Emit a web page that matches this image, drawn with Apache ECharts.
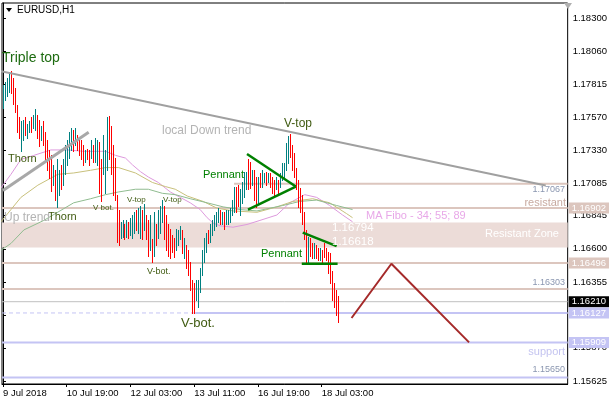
<!DOCTYPE html>
<html><head><meta charset="utf-8">
<script src="https://cdn.jsdelivr.net/npm/echarts@6/dist/echarts.min.js"></script>
<style>html,body{margin:0;padding:0;background:#fff}#c{width:610px;height:400px}</style>
</head><body><div id="c"></div>
<script>
// ---- data ----
const xTickIdx = [0, 32, 64, 96, 128, 160];
const xTickLabels = ['9 Jul 2018', '10 Jul 19:00', '12 Jul 03:00', '13 Jul 11:00', '16 Jul 19:00', '18 Jul 03:00'];
const yTicks = [1.18300, 1.18060, 1.17815, 1.17570, 1.17330, 1.17085, 1.16845, 1.16600, 1.16355, 1.16110, 1.15870, 1.15625];
// hourly bars EURUSD H1: [open, close, low, high]
const bars = [
[1.1767,1.1778,1.1764,1.1781],[1.1772,1.1781,1.1770,1.1783],[1.1776,1.1784,1.1773,1.1786],[1.1779,1.1788,1.1776,1.1789],
[1.1788,1.1778,1.1775,1.1791],[1.1780,1.1769,1.1767,1.1786],[1.1772,1.1763,1.1761,1.1779],[1.1764,1.1748,1.1746,1.1766],
[1.1752,1.1744,1.1742,1.1757],[1.1742,1.1752,1.1732,1.1754],[1.1745,1.1753,1.1740,1.1755],[1.1755,1.1746,1.1744,1.1757],
[1.1745,1.1750,1.1742,1.1752],[1.1748,1.1752,1.1746,1.1754],[1.1754,1.1748,1.1746,1.1757],[1.1750,1.1757,1.1749,1.1759],
[1.1750,1.1761,1.1748,1.1763],[1.1758,1.1745,1.1742,1.1759],[1.1750,1.1738,1.1736,1.1755],[1.1742,1.1749,1.1740,1.1751],
[1.1750,1.1739,1.1737,1.1754],[1.1740,1.1728,1.1726,1.1746],[1.1730,1.1720,1.1718,1.1740],[1.1725,1.1714,1.1712,1.1733],
[1.1716,1.1706,1.1703,1.1729],[1.1709,1.1719,1.1707,1.1722],[1.1716,1.1700,1.1696,1.1718],[1.1700,1.1722,1.1691,1.1726],
[1.1705,1.1715,1.1700,1.1718],[1.1716,1.1706,1.1704,1.1722],[1.1709,1.1722,1.1707,1.1726],[1.1718,1.1733,1.1715,1.1737],
[1.1727,1.1737,1.1722,1.1740],[1.1732,1.1743,1.1727,1.1746],[1.1737,1.1747,1.1733,1.1749],[1.1746,1.1736,1.1732,1.1748],
[1.1739,1.1747,1.1737,1.1749],[1.1743,1.1735,1.1733,1.1744],[1.1740,1.1731,1.1729,1.1742],[1.1738,1.1728,1.1726,1.1740],
[1.1735,1.1724,1.1722,1.1737],[1.1725,1.1731,1.1724,1.1733],[1.1732,1.1727,1.1726,1.1734],[1.1731,1.1723,1.1722,1.1733],
[1.1728,1.1738,1.1727,1.1740],[1.1736,1.1726,1.1724,1.1737],[1.1727,1.1740,1.1724,1.1742],[1.1727,1.1738,1.1722,1.1740],
[1.1737,1.1705,1.1701,1.1739],[1.1715,1.1698,1.1695,1.1726],[1.1718,1.1740,1.1715,1.1744],[1.1705,1.1730,1.1701,1.1733],
[1.1722,1.1752,1.1718,1.1757],[1.1752,1.1730,1.1726,1.1758],[1.1745,1.1720,1.1715,1.1751],[1.1725,1.1705,1.1700,1.1737],
[1.1710,1.1700,1.1696,1.1727],[1.1698,1.1668,1.1665,1.1700],[1.1680,1.1670,1.1663,1.1689],[1.1670,1.1677,1.1668,1.1680],
[1.1671,1.1678,1.1669,1.1681],[1.1676,1.1669,1.1667,1.1678],[1.1670,1.1678,1.1669,1.1681],[1.1678,1.1671,1.1668,1.1680],
[1.1672,1.1680,1.1670,1.1683],[1.1672,1.1682,1.1668,1.1685],[1.1675,1.1685,1.1672,1.1687],[1.1686,1.1677,1.1674,1.1689],
[1.1676,1.1687,1.1672,1.1690],[1.1673,1.1689,1.1668,1.1692],[1.1687,1.1672,1.1667,1.1689],[1.1676,1.1690,1.1674,1.1693],
[1.1684,1.1670,1.1667,1.1685],[1.1672,1.1660,1.1655,1.1681],[1.1662,1.1680,1.1659,1.1685],[1.1665,1.1652,1.1650,1.1667],
[1.1657,1.1683,1.1655,1.1687],[1.1677,1.1665,1.1663,1.1678],[1.1670,1.1686,1.1668,1.1689],[1.1676,1.1690,1.1672,1.1692],
[1.1683,1.1694,1.1680,1.1696],[1.1690,1.1670,1.1667,1.1692],[1.1680,1.1662,1.1659,1.1685],[1.1670,1.1658,1.1655,1.1678],
[1.1672,1.1656,1.1653,1.1675],[1.1668,1.1660,1.1658,1.1670],[1.1665,1.1656,1.1654,1.1668],[1.1660,1.1672,1.1659,1.1675],
[1.1665,1.1672,1.1663,1.1674],[1.1669,1.1675,1.1667,1.1677],[1.1672,1.1660,1.1657,1.1674],[1.1655,1.1664,1.1653,1.1668],
[1.1660,1.1649,1.1646,1.1663],[1.1650,1.1643,1.1641,1.1659],[1.1645,1.1632,1.1630,1.1650],[1.1633,1.1618,1.1613,1.1637],
[1.1625,1.1616,1.1613,1.1635],[1.1624,1.1634,1.1622,1.1637],[1.1620,1.1633,1.1617,1.1637],[1.1630,1.1643,1.1628,1.1646],
[1.1643,1.1656,1.1641,1.1659],[1.1653,1.1666,1.1650,1.1668],[1.1660,1.1669,1.1658,1.1672],[1.1672,1.1665,1.1664,1.1674],
[1.1667,1.1676,1.1665,1.1678],[1.1672,1.1680,1.1670,1.1681],[1.1676,1.1683,1.1674,1.1685],[1.1679,1.1686,1.1677,1.1687],
[1.1682,1.1688,1.1680,1.1690],[1.1688,1.1680,1.1678,1.1689],[1.1680,1.1686,1.1678,1.1687],[1.1686,1.1678,1.1675,1.1687],
[1.1679,1.1687,1.1678,1.1689],[1.1681,1.1687,1.1678,1.1689],[1.1683,1.1689,1.1680,1.1690],[1.1687,1.1694,1.1685,1.1696],
[1.1690,1.1704,1.1687,1.1706],[1.1704,1.1690,1.1687,1.1706],[1.1704,1.1695,1.1692,1.1707],[1.1688,1.1700,1.1685,1.1704],
[1.1697,1.1706,1.1694,1.1709],[1.1702,1.1714,1.1698,1.1717],[1.1707,1.1715,1.1704,1.1717],[1.1720,1.1706,1.1704,1.1726],
[1.1722,1.1708,1.1705,1.1724],[1.1709,1.1716,1.1707,1.1718],[1.1716,1.1700,1.1696,1.1718],[1.1705,1.1694,1.1691,1.1713],
[1.1695,1.1709,1.1694,1.1713],[1.1714,1.1708,1.1706,1.1716],[1.1708,1.1716,1.1706,1.1718],[1.1711,1.1715,1.1709,1.1716],
[1.1715,1.1709,1.1707,1.1717],[1.1710,1.1715,1.1709,1.1716],[1.1715,1.1708,1.1706,1.1716],[1.1710,1.1703,1.1701,1.1713],
[1.1707,1.1700,1.1698,1.1711],[1.1705,1.1710,1.1704,1.1713],[1.1710,1.1703,1.1701,1.1711],[1.1707,1.1714,1.1706,1.1716],
[1.1713,1.1721,1.1711,1.1723],[1.1716,1.1722,1.1713,1.1723],[1.1720,1.1735,1.1718,1.1738],[1.1726,1.1740,1.1723,1.1743],
[1.1740,1.1732,1.1728,1.1745],[1.1734,1.1722,1.1718,1.1737],[1.1725,1.1716,1.1713,1.1731],[1.1716,1.1706,1.1704,1.1720],
[1.1708,1.1694,1.1691,1.1711],[1.1698,1.1690,1.1687,1.1705],[1.1692,1.1681,1.1678,1.1700],[1.1682,1.1669,1.1667,1.1687],
[1.1670,1.1653,1.1650,1.1674],[1.1653,1.1664,1.1650,1.1669],[1.1665,1.1658,1.1655,1.1668],[1.1660,1.1655,1.1653,1.1664],
[1.1655,1.1662,1.1653,1.1664],[1.1660,1.1655,1.1653,1.1663],[1.1660,1.1653,1.1652,1.1661],[1.1654,1.1660,1.1652,1.1661],
[1.1658,1.1652,1.1650,1.1659],[1.1662,1.1656,1.1654,1.1664],[1.1658,1.1653,1.1652,1.1661],[1.1655,1.1645,1.1642,1.1658],
[1.1648,1.1638,1.1635,1.1657],[1.1640,1.1626,1.1622,1.1644],[1.1630,1.1620,1.1617,1.1635],[1.1628,1.1615,1.1611,1.1630],
[1.1625,1.1621,1.1606,1.1625]
];
// moving averages (shifted), points [barIndex, price]
const ma34 = [[-1,1.1705],[4,1.1715],[9,1.1726],[15.5,1.1729],[24,1.1733],[32.5,1.1733],[40.5,1.1732],[51.5,1.1732],[56.5,1.1729],[61.5,1.1727],[65,1.1722],[69,1.1717],[73,1.1713],[78,1.1709],[84,1.1702],[89,1.1698],[94,1.1694],[99,1.1689],[102.5,1.1683],[105.5,1.1679],[109,1.1677],[115.5,1.1676],[122.5,1.1678],[129,1.1681],[137.5,1.1685],[144,1.1694],[151.5,1.1700],[157.5,1.1698],[164,1.1692],[170.5,1.1685],[175.5,1.1680]];
const ma55 = [[-1,1.1680],[4,1.1689],[9,1.1698],[17.5,1.1707],[27.5,1.1715],[35.5,1.1716],[44,1.1718],[51.5,1.1720],[58,1.1720],[66.5,1.1716],[75,1.1709],[81.5,1.1706],[86.5,1.1704],[92.5,1.1699],[100.5,1.1695],[107.5,1.1690],[115.5,1.1688],[127.5,1.1687],[137.5,1.1691],[145.5,1.1695],[155.5,1.1697],[164,1.1694],[172.5,1.1686],[175.5,1.1683]];
const ma89 = [[-1,1.1659],[4,1.1664],[10.5,1.1674],[20.5,1.1681],[35.5,1.1694],[44,1.1697],[51.5,1.1700],[58,1.1702],[66.5,1.1704],[73,1.1704],[80,1.1701],[86.5,1.1700],[94,1.1697],[102.5,1.1694],[110.5,1.1691],[119,1.1689],[127.5,1.1688],[140.5,1.1692],[149,1.1695],[157.5,1.1696],[167.5,1.1692],[175.5,1.1689]];
// drawn objects
const downTrend = [[-1,1.1791],[272.5,1.17067]];
const upTrend = [[0,1.1703],[43,1.1746]];
const pennant1Upper = [[122.5,1.1730],[147,1.1706]];
const pennant1Lower = [[123,1.1689],[147,1.1706]];
const pennant2Upper = [[150.5,1.1672],[167.5,1.1662]];
const pennant2Lower = [[150,1.1649],[168,1.1649]];
const projection = [[175,1.1609],[195,1.1649],[234,1.1591]];
const zone = [1.16794, 1.16610];
const resLevel = 1.1708, resLevelStart = 116;
const roseLevels = [1.16902, 1.16496, 1.16303];
const roseTags = [1.16902, 1.16496];
const lavLevels = [1.15909, 1.15650];
const lavTags = [1.15909];
const supLevel = 1.16127, supDashEnd = 96.5;
const bid = 1.16210;

const FONT = 'Liberation Sans, Arial, sans-serif';
const TEAL = '#008080', RED = '#ff0000';
const ROSE = '#dcc6be', LAV = '#c4c4f4', ZONE = '#ecdcd8';
const XMIN = -0.5, XMAX = 283.5;

const chart = echarts.init(document.getElementById('c'), null, {renderer: 'canvas'});

function seg(data, color, width, type, z, endTag) {
  const s = {type: 'line', data: data, showSymbol: false, symbol: 'none', silent: true, z: z || 4,
    lineStyle: {color: color, width: width, type: type || 'solid'}, animation: false};
  if (endTag) {
    s.endLabel = {show: true, distance: 1, formatter: endTag.v.toFixed(5), color: '#fff',
      backgroundColor: endTag.bg, padding: [1, 3, 0, 3], fontSize: 9.5, fontFamily: FONT};
  }
  return s;
}
function level(v, color, width, tagBg, z) {
  return seg([[XMIN, v], [XMAX, v]], color, width, 'solid', z || 2, tagBg ? {v: v, bg: tagBg} : null);
}

const txt = (text, x, y, size, color, align) => ({type: 'text', x: x, y: y, z: 100, silent: true,
  style: {text: text, fill: color, font: size + 'px ' + FONT, align: align || 'left', verticalAlign: 'middle'}});
const OLIVE = '#3f5a10', GREEN = '#008000', GR = '#b4b4b4', SLATE = '#8a96b0';

const series = [
  {type: 'line', data: [], z: 1, silent: true,
    markArea: {silent: true, itemStyle: {color: ZONE}, data: [[{yAxis: zone[0]}, {yAxis: zone[1]}]]}}
];
roseLevels.forEach(v => series.push(level(v, ROSE, 2, roseTags.includes(v) ? ROSE : null)));
lavLevels.forEach(v => series.push(level(v, LAV, 2, lavTags.includes(v) ? LAV : null)));
series.push(level(bid, '#c0c0c0', 1, '#000'));
series.push(seg([[resLevelStart, resLevel], [XMAX, resLevel]], ROSE, 2, 'solid', 2));
series.push(seg([[XMIN, supLevel], [supDashEnd, supLevel]], LAV, 1, [4, 3], 2));
series.push(seg([[supDashEnd, supLevel], [XMAX, supLevel]], LAV, 2, 'solid', 2, {v: supLevel, bg: LAV}));
series.push(seg(ma34, '#dd99dd', 1, 'solid', 3));
series.push(seg(ma55, '#c8c07c', 1, 'solid', 3));
series.push(seg(ma89, '#90bc90', 1, 'solid', 3));
series.push({type: 'custom', z: 5, silent: true, data: bars.map((b, i) => [i, b[0], b[1], b[2], b[3]]),
  encode: {x: 0, y: [1, 2, 3, 4]},
  renderItem: function (params, api) {
    const i = api.value(0), o = api.value(1), c = api.value(2), l = api.value(3), h = api.value(4);
    const top = api.coord([i, h]), bot = api.coord([i, l]);
    const x = Math.round(top[0]), y0 = Math.round(top[1]), y1 = Math.round(bot[1]);
    return {type: 'rect', shape: {x: x, y: y0, width: 1, height: Math.max(1, y1 - y0 + 1)},
      style: {fill: c >= o ? TEAL : RED}};
  }});
series.push(seg(downTrend, '#a0a0a0', 2, 'solid', 6));
series.push(seg(upTrend, '#a8a8a8', 3, 'solid', 6));
series.push(seg(pennant1Upper, GREEN, 2.5, 'solid', 7));
series.push(seg(pennant1Lower, GREEN, 2.5, 'solid', 7));
series.push(seg(pennant2Upper, GREEN, 2.5, 'solid', 7));
series.push(seg(pennant2Lower, GREEN, 2.5, 'solid', 7));
series.push(seg(projection, '#a52a2a', 2, 'solid', 7));

chart.setOption({
  animation: false,
  grid: {left: 1, right: 41, top: 3, bottom: 16, show: true, borderColor: '#000', borderWidth: 1},
  xAxis: {type: 'value', min: XMIN, max: XMAX, splitLine: {show: false},
    axisLine: {show: true, lineStyle: {color: '#000'}},
    axisTick: {show: true, customValues: xTickIdx, length: 3, lineStyle: {color: '#000'}},
    axisLabel: {customValues: xTickIdx, align: 'left', margin: 4, color: '#000', fontSize: 9.5, fontFamily: FONT,
      formatter: v => xTickLabels[xTickIdx.indexOf(Math.round(v))] || ''}},
  yAxis: {type: 'value', position: 'right', min: 1.156028, max: 1.184144, splitLine: {show: false},
    axisLine: {show: true, lineStyle: {color: '#000'}},
    axisTick: {show: true, customValues: yTicks, length: 3, lineStyle: {color: '#000'}},
    axisLabel: {customValues: yTicks, margin: 5, color: '#000', fontSize: 9.5, fontFamily: FONT,
      formatter: v => v.toFixed(5)}},
  series: series,
  graphic: [
    {type: 'polygon', z: 100, shape: {points: [[6, 8], [12, 8], [9, 12]]}, style: {fill: '#000'}},
    txt('EURUSD,H1', 17, 10, 10, '#000'),
    {type: 'polygon', z: 100, shape: {points: [[564, 3], [572, 3], [568, 9]]}, style: {fill: '#b0b0b0'}},
    txt('Triple top', 2, 58, 14, '#1d6b10'),
    txt('Thorn', 8, 159, 11, OLIVE),
    txt('Thorn', 48, 217, 11, OLIVE),
    txt('Up trend', 4, 218, 12, GR),
    txt('V bot.', 93, 208, 8, OLIVE),
    txt('V-top', 127, 200, 8, OLIVE),
    txt('V-top', 163, 200, 8, OLIVE),
    txt('V-bot.', 147, 272, 9, OLIVE),
    txt('V-bot.', 181, 323, 13, OLIVE),
    txt('local Down trend', 162, 131, 12, GR),
    txt('V-top', 284, 124, 12, OLIVE),
    txt('Pennant', 203, 175, 11, GREEN),
    txt('Pennant', 261, 254, 11, GREEN),
    txt('MA Fibo - 34; 55; 89', 366, 216, 11, '#e8a8e8'),
    txt('1.16794', 332, 228, 11.5, '#fff'),
    txt('1.16618', 332, 242, 11.5, '#fff'),
    txt('Resistant Zone', 485, 234, 11, '#fff'),
    txt('1.17067', 565, 190, 9, SLATE, 'right'),
    txt('resistant', 566, 203, 11, '#c8aaa0', 'right'),
    txt('1.16303', 565, 283, 9, SLATE, 'right'),
    txt('support', 565, 352, 11, '#c4c4f0', 'right'),
    txt('1.15650', 565, 370, 9, SLATE, 'right')
  ]
});
</script></body></html>
